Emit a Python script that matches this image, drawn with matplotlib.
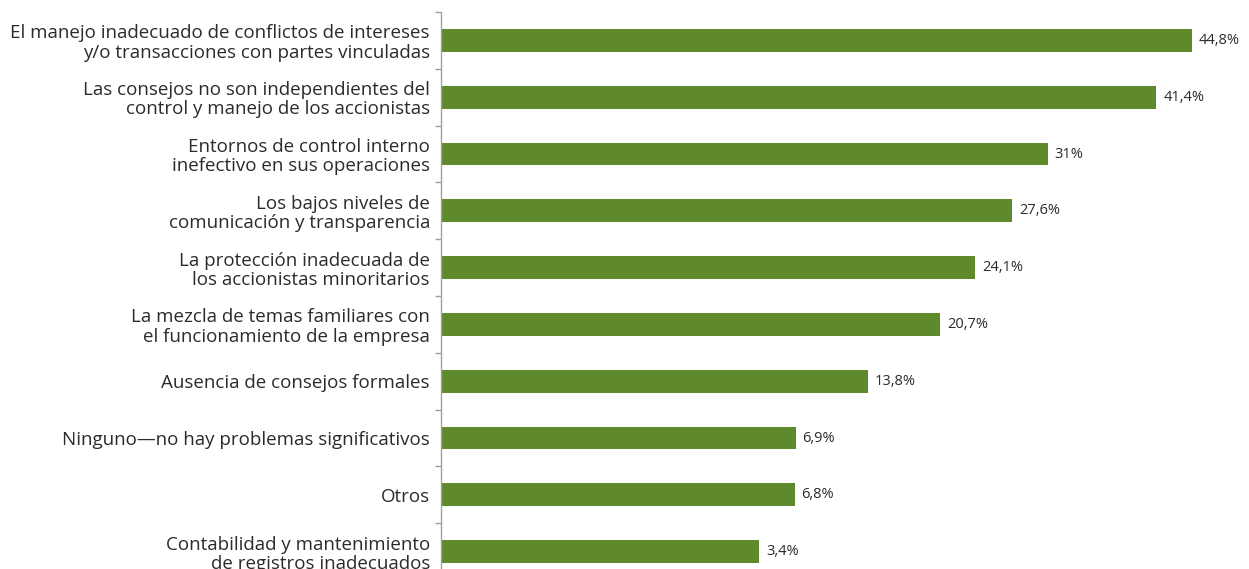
import matplotlib.pyplot as plt
from matplotlib.ticker import FixedLocator

categories = [
    "El manejo inadecuado de conflictos de intereses\ny/o transacciones con partes vinculadas",
    "Las consejos no son independientes del\ncontrol y manejo de los accionistas",
    "Entornos de control interno\ninefectivo en sus operaciones",
    "Los bajos niveles de\ncomunicación y transparencia",
    "La protección inadecuada de\nlos accionistas minoritarios",
    "La mezcla de temas familiares con\nel funcionamiento de la empresa",
    "Ausencia de consejos formales",
    "Ninguno—no hay problemas significativos",
    "Otros",
    "Contabilidad y mantenimiento\nde registros inadecuados",
]
values = [44.8, 41.4, 31.0, 27.6, 24.1, 20.7, 13.8, 6.9, 6.8, 3.4]
value_labels = ["44,8%", "41,4%", "31%", "27,6%", "24,1%", "20,7%",
                "13,8%", "6,9%", "6,8%", "3,4%"]

XMIN, XMAX = -27.0, 50.25
BAR_COLOR = "#5e8a2b"
TEXT_COLOR = "#2b2b2b"
AXIS_COLOR = "#a0a0a0"

plt.rcParams["font.family"] = ["Open Sans", "DejaVu Sans"]

W, H = 1249, 569
fig = plt.figure(figsize=(W / 100, H / 100), dpi=100)
left_px, top_px, bottom_px = 441, 12, 580
ax = fig.add_axes([left_px / W, 1 - bottom_px / H,
                   1 - left_px / W, (bottom_px - top_px) / H])

n = len(categories)
ypos = list(range(n))
ax.barh(ypos, [v - XMIN for v in values], left=XMIN, height=0.4,
        color=BAR_COLOR, zorder=2)

for y, v, lab in zip(ypos, values, value_labels):
    ax.annotate(lab, xy=(v, y), xytext=(5, 0), textcoords="offset points",
                va="center", ha="left", fontsize=10.5, color=TEXT_COLOR)

ax.set_xlim(XMIN, XMAX)
ax.set_ylim(n - 0.5, -0.5)

ax.set_yticks(ypos)
ax.set_yticklabels(categories, fontsize=13.5, color=TEXT_COLOR,
                   linespacing=1.08)
ax.tick_params(axis="y", which="major", length=0, pad=8)
ax.yaxis.set_minor_locator(FixedLocator([i - 0.5 for i in range(n + 1)]))
ax.tick_params(axis="y", which="minor", length=4.5, width=1,
               color=AXIS_COLOR)
for t in ax.get_yticklabels():
    t.set_ha("right")

ax.set_xticks([])
for side in ("top", "right", "bottom"):
    ax.spines[side].set_visible(False)
ax.spines["left"].set_color(AXIS_COLOR)
ax.spines["left"].set_linewidth(1)

fig.savefig("out.png", dpi=100)
